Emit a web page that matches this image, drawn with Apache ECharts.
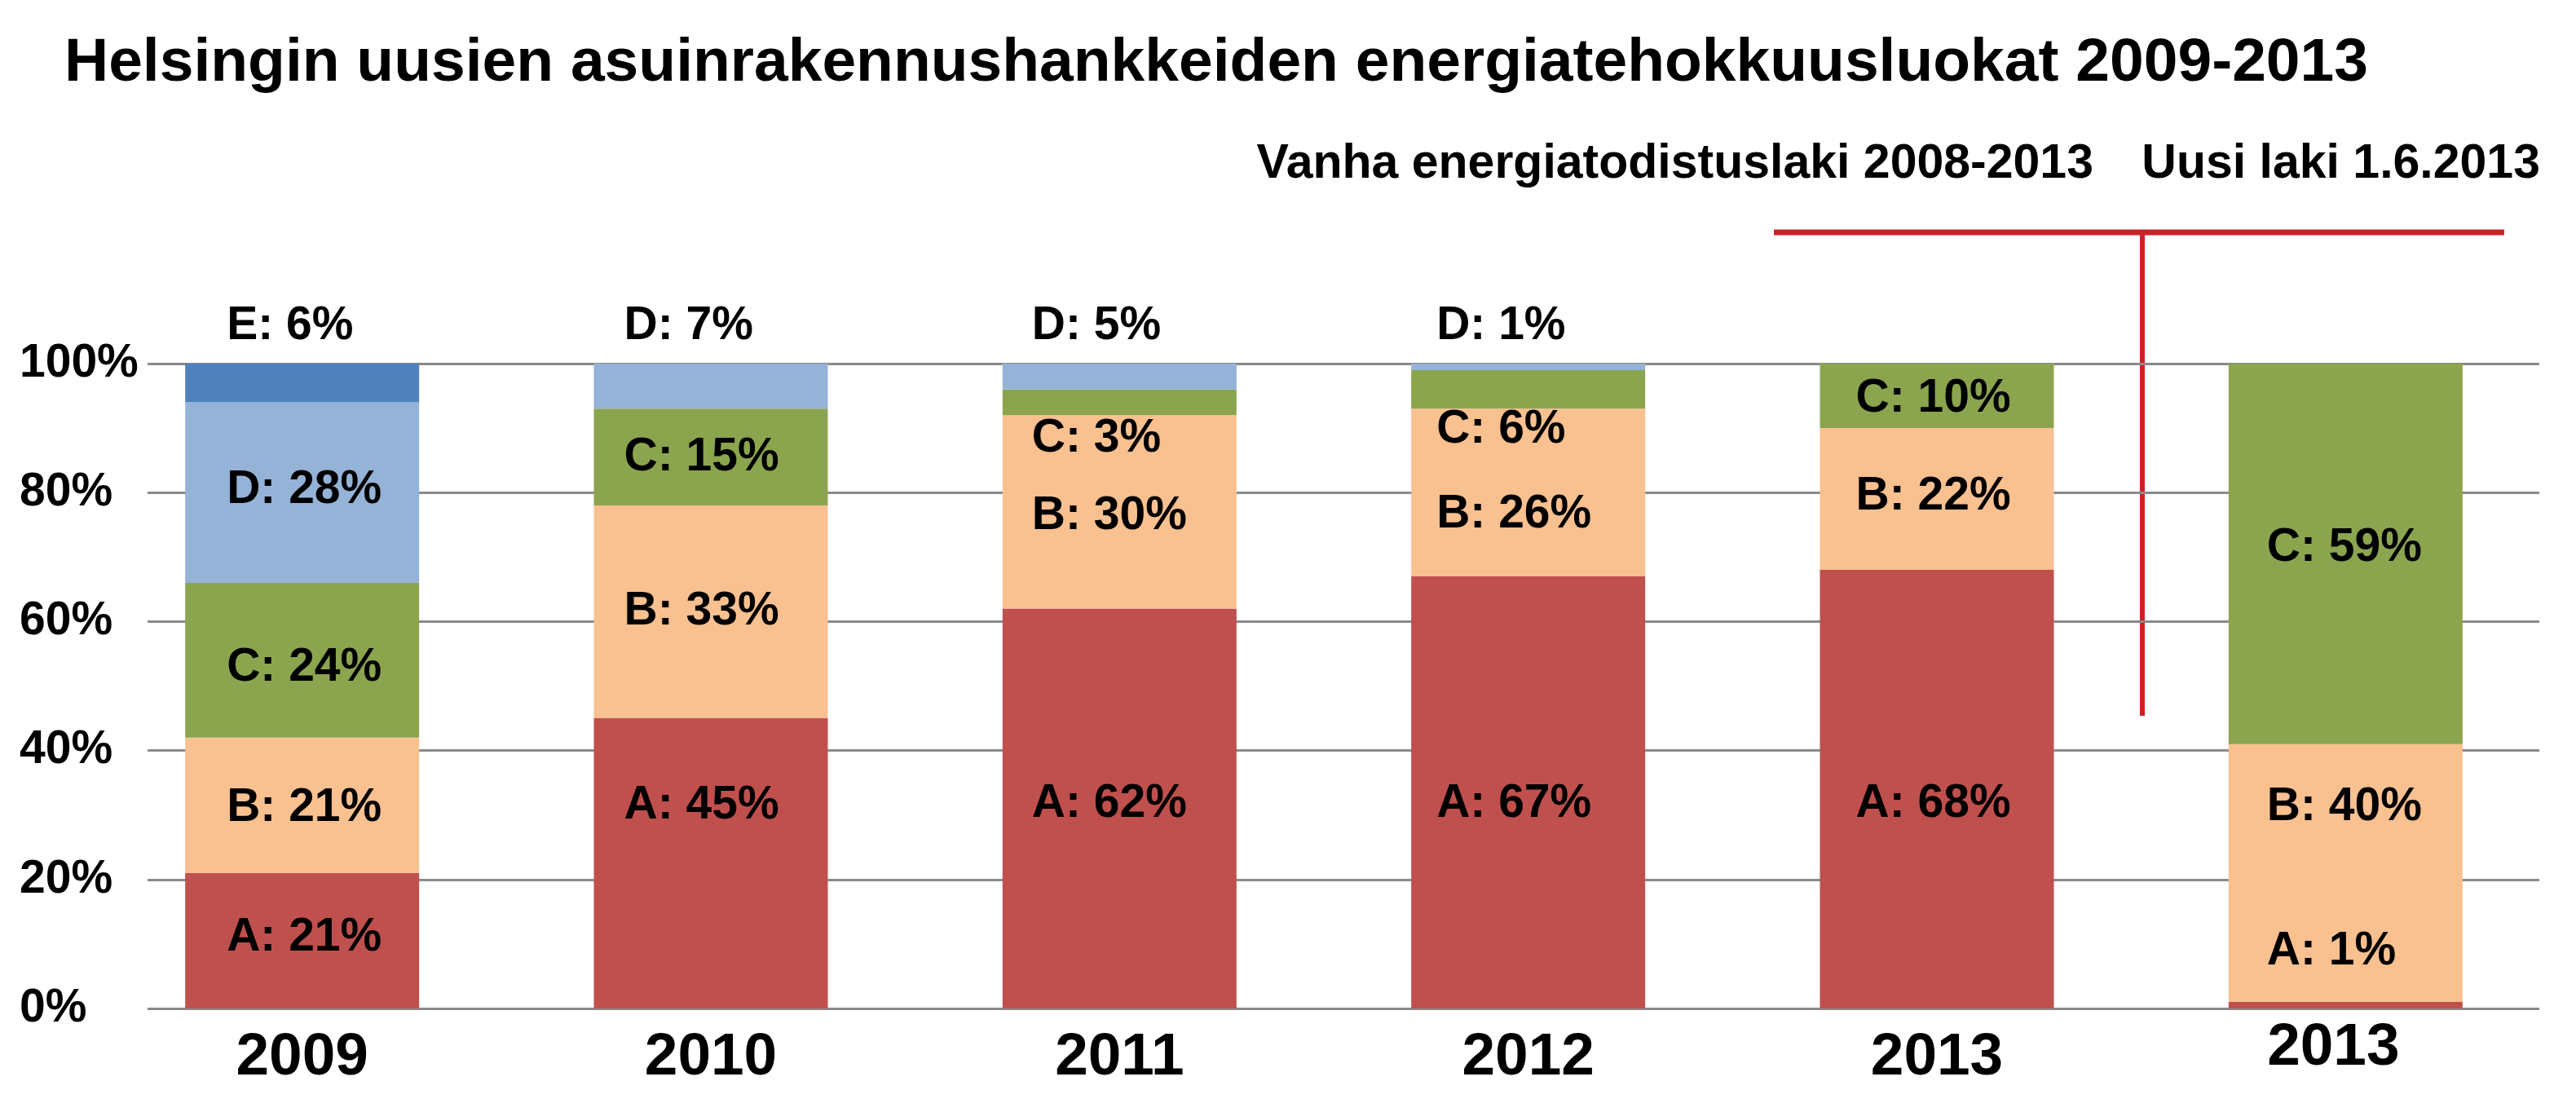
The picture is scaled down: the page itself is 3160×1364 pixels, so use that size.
<!DOCTYPE html>
<html>
<head>
<meta charset="utf-8">
<title>Helsingin energiatehokkuusluokat</title>
<script src="https://cdn.jsdelivr.net/npm/echarts@6/dist/echarts.min.js"></script>
<style>
  html, body { margin: 0; padding: 0; background: #fff; }
  #chart { width: 3160px; height: 1364px; }
</style>
</head>
<body>
<div id="chart"></div>
<script>
// categories (the last column is the new law, 1.6.2013)
const years = ['2009', '2010', '2011', '2012', '2013', '2013'];

// bar segment heights, % of projects per energy class
const classA = [21, 45, 62, 67, 68, 1];
const classB = [21, 33, 30, 26, 22, 40];
const classC = [24, 15, 4, 6, 10, 59];
const classD = [28, 7, 4, 1, 0, 0];
const classE = [6, 0, 0, 0, 0, 0];

// label texts as printed on the chart
const textA = ['21%', '45%', '62%', '67%', '68%', '1%'];
const textB = ['21%', '33%', '30%', '26%', '22%', '40%'];
const textC = ['24%', '15%', '3%', '6%', '10%', '59%'];
const textD = ['28%', '7%', '5%', '1%', null, null];
const textE = ['6%', null, null, null, null, null];

const yTicks = [0, 20, 40, 60, 80, 100];

const title = 'Helsingin uusien asuinrakennushankkeiden energiatehokkuusluokat 2009-2013';
const oldLaw = 'Vanha energiatodistuslaki 2008-2013';
const newLaw = 'Uusi laki 1.6.2013';

// label placement tweaks (px), the original labels were hand-placed
const labelInset = [51, 37, 36, 31, 44, 47];
const labelShift = {
  A: [-4, -71, -6, 14, 18, -66],
  B: [3, 0, 5, 27, -3, -81],
  C: [9, 1, 45, 50, 4, -7],
  D: [-3, 0, 0, 0, 0, 0],
  E: [0, 0, 0, 0, 0, 0],
};
const labelAbove = {
  D: [false, true, true, true, false, false],
  E: [true, false, false, false, false, false],
};

const FONT = '"Liberation Sans", Arial, sans-serif';

const chart = echarts.init(document.getElementById('chart'));

const classes = [
  { name: 'A', values: classA, texts: textA, color: '#C0504D' },
  { name: 'B', values: classB, texts: textB, color: '#F9C090' },
  { name: 'C', values: classC, texts: textC, color: '#8BA54E' },
  { name: 'D', values: classD, texts: textD, color: '#95B3D7' },
  { name: 'E', values: classE, texts: textE, color: '#4F81BD' },
];

function labelFor(cls, text, i) {
  if (!text) {
    return { show: false };
  }
  const base = {
    show: true,
    formatter: `${cls}: ${text}`,
    color: '#000',
    fontFamily: FONT,
    fontWeight: 'bold',
    fontSize: 57,
  };
  if (labelAbove[cls] && labelAbove[cls][i]) {
    return Object.assign(base, {
      position: [labelInset[i], -46],
      align: 'left',
      verticalAlign: 'middle',
    });
  }
  return Object.assign(base, {
    position: 'insideLeft',
    distance: labelInset[i],
    offset: [0, labelShift[cls][i]],
  });
}

const series = classes.map((c) => ({
  type: 'bar',
  name: c.name,
  stack: 'all',
  xAxisIndex: 1,
  yAxisIndex: 1,
  barWidth: 287,
  itemStyle: { color: c.color },
  data: c.values.map((v, i) => ({ value: v, label: labelFor(c.name, c.texts[i], i) })),
}));

const xData = years.map((y, i) => {
  if (i === years.length - 1) {
    // the new-law column label sits a little higher and left in the original
    return { value: y, textStyle: { lineHeight: 56, padding: [0, 30, 0, 0] } };
  }
  return y;
});

chart.setOption({
  animation: false,
  backgroundColor: '#fff',
  title: {
    text: title,
    left: 74,
    top: 36,
    textStyle: {
      fontFamily: FONT,
      fontWeight: 'bold',
      fontSize: 75,
      color: '#000',
    },
  },
  grid: [
    { left: 181, right: 45, top: 446, bottom: 127 },
    { left: 120, right: 32, top: 446, bottom: 127 },
  ],
  xAxis: [
    { type: 'value', gridIndex: 0, show: false, min: 0, max: 1 },
    {
      type: 'category',
      gridIndex: 1,
      data: xData,
      axisLine: { show: false },
      axisTick: { show: false },
      axisLabel: {
        margin: 21,
        color: '#000',
        fontFamily: FONT,
        fontWeight: 'bold',
        fontSize: 73,
        lineHeight: 80,
        verticalAlign: 'top',
      },
    },
  ],
  yAxis: [
    {
      type: 'value',
      gridIndex: 0,
      min: yTicks[0],
      max: yTicks[yTicks.length - 1],
      interval: 20,
      axisLine: { show: false },
      axisTick: { show: false },
      splitLine: { lineStyle: { color: '#8A8A8A', width: 3 } },
      axisLabel: {
        formatter: '{value}%',
        align: 'left',
        margin: 157,
        color: '#000',
        fontFamily: FONT,
        fontWeight: 'bold',
        fontSize: 57,
      },
    },
    { type: 'value', gridIndex: 1, min: 0, max: 100, show: false },
  ],
  series: series,
  graphic: [
    {
      type: 'text',
      right: 3160 - 2568,
      top: 172,
      style: {
        text: oldLaw,
        fill: '#000',
        font: `bold 59px ${FONT}`,
      },
    },
    {
      type: 'text',
      right: 3160 - 3116,
      top: 172,
      style: {
        text: newLaw,
        fill: '#000',
        font: `bold 59px ${FONT}`,
      },
    },
    {
      type: 'line',
      shape: { x1: 2176, y1: 285, x2: 3072, y2: 285 },
      style: { stroke: '#CE2027', lineWidth: 7 },
    },
    {
      type: 'line',
      shape: { x1: 2628, y1: 285, x2: 2628, y2: 878 },
      style: { stroke: '#CE2027', lineWidth: 6 },
    },
  ],
});

window.addEventListener('resize', () => {
  chart.resize();
});
</script>
</body>
</html>
